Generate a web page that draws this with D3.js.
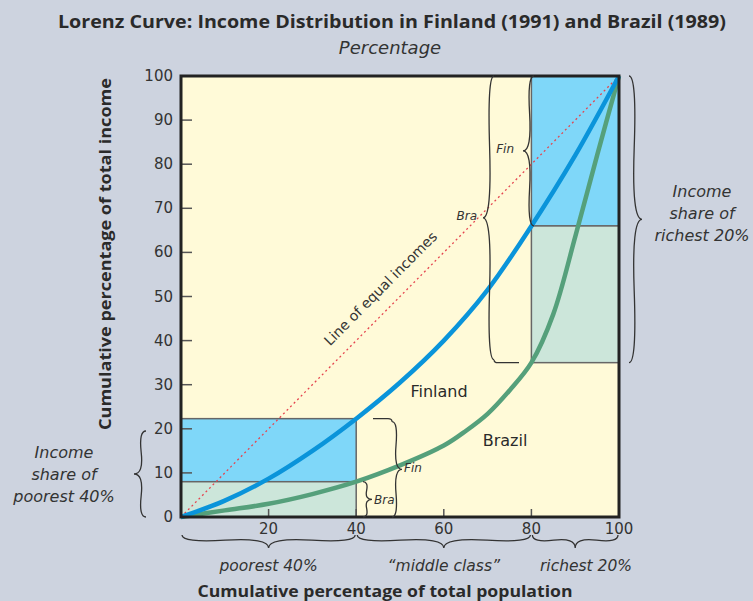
<!DOCTYPE html>
<meta charset="utf-8">
<style>
body { margin: 0; background: #cdd3df; }
svg { display: block; }
text { font-family: "DejaVu Sans", sans-serif; fill: #2a2a2a; }
.bold-title { font-family: "Open Sans", sans-serif; font-weight: bold; }
.tick-label { font-size: 15px; fill: #333; }
.note { font-style: italic; font-size: 16px; fill: #333; }
.small { font-style: italic; font-size: 12px; fill: #333; }
.brace { fill: none; stroke: #333; stroke-width: 1.3px; }
</style>
<svg width="753" height="601"></svg>
<script src="https://d3js.org/d3.v7.min.js"></script>
<script>

// cumulative population share (%) and cumulative income share (%)
var finlandPop = [0, 10, 20, 30, 40, 50, 60, 70, 80, 90, 100];
var finlandIncome = [0, 3.7, 8.7, 15, 22.3, 30.5, 40, 51.5, 66, 82, 100];

var brazilPop = [0, 10, 20, 30, 40, 50, 60, 65, 70, 75, 80, 85, 90, 95, 100];
var brazilIncome = [0, 1.5, 3, 5.2, 8, 11.7, 16.2, 19.5, 23.4, 28.7, 35, 46, 63.5, 82, 100];

var xTicks = [0, 20, 40, 60, 80, 100];
var yTicks = [0, 10, 20, 30, 40, 50, 60, 70, 80, 90, 100];

var groupNames = ["poorest 40%", "\u201cmiddle class\u201d", "richest 20%"];
var groupBounds = [[0, 40], [40, 80], [80, 100]];

var finPoorest40 = 22.3, braPoorest40 = 8;
var finRichStart = 66, braRichStart = 35;

var svg = d3.select("svg");

var x = d3.scaleLinear().domain([0, 100]).range([181, 619]);
var y = d3.scaleLinear().domain([0, 100]).range([517, 76]);

// curly brace from (x1,y1) to (x2,y2), tip on the left of the direction of travel
function bracePath(x1, y1, x2, y2, w, q) {
  var dx = x1 - x2, dy = y1 - y2, len = Math.sqrt(dx * dx + dy * dy);
  dx /= len; dy /= len;
  var qx1 = x1 + q * w * dy, qy1 = y1 - q * w * dx;
  var qx2 = (x1 - .25 * len * dx) + (1 - q) * w * dy, qy2 = (y1 - .25 * len * dy) - (1 - q) * w * dx;
  var tx1 = (x1 - .5 * len * dx) + w * dy, ty1 = (y1 - .5 * len * dy) - w * dx;
  var qx3 = x2 + q * w * dy, qy3 = y2 - q * w * dx;
  var qx4 = (x1 - .75 * len * dx) + (1 - q) * w * dy, qy4 = (y1 - .75 * len * dy) - (1 - q) * w * dx;
  return "M" + x1 + " " + y1 + " Q" + qx1 + " " + qy1 + " " + qx2 + " " + qy2 + " T" + tx1 + " " + ty1 +
    " M" + x2 + " " + y2 + " Q" + qx3 + " " + qy3 + " " + qx4 + " " + qy4 + " T" + tx1 + " " + ty1;
}

// titles
svg.append("text")
    .attr("class", "bold-title")
    .attr("x", 392).attr("y", 28)
    .attr("text-anchor", "middle")
    .attr("textLength", 668).attr("lengthAdjust", "spacingAndGlyphs")
    .style("font-size", "18px")
    .text("Lorenz Curve: Income Distribution in Finland (1991) and Brazil (1989)");

svg.append("text")
    .attr("x", 390).attr("y", 54)
    .attr("text-anchor", "middle")
    .style("font-size", "18px").style("font-style", "italic").style("fill", "#333")
    .text("Percentage");

// plot background
svg.append("rect")
    .attr("x", x(0)).attr("y", y(100))
    .attr("width", x(100) - x(0)).attr("height", y(0) - y(100))
    .attr("fill", "#fffad8");

// share boxes
var boxes = [
  { x0: 0, x1: 40, y0: braPoorest40, y1: finPoorest40, fill: "#7fd7f9" },
  { x0: 0, x1: 40, y0: 0, y1: braPoorest40, fill: "#cce6da" },
  { x0: 80, x1: 100, y0: finRichStart, y1: 100, fill: "#7fd7f9" },
  { x0: 80, x1: 100, y0: braRichStart, y1: finRichStart, fill: "#cce6da" }
];
svg.append("g").selectAll("rect")
  .data(boxes)
  .enter().append("rect")
    .attr("x", function(d) { return x(d.x0); })
    .attr("y", function(d) { return y(d.y1); })
    .attr("width", function(d) { return x(d.x1) - x(d.x0); })
    .attr("height", function(d) { return y(d.y0) - y(d.y1); })
    .attr("fill", function(d) { return d.fill; })
    .attr("stroke", "#666")
    .attr("stroke-width", 1.5);

// ticks inside the frame
svg.append("g").selectAll("line")
  .data(yTicks.slice(1, -1))
  .enter().append("line")
    .attr("x1", x(0)).attr("x2", x(0) + 11)
    .attr("y1", function(d) { return y(d); }).attr("y2", function(d) { return y(d); })
    .attr("stroke", "#555").attr("stroke-width", 1.5);

svg.append("g").selectAll("line")
  .data(xTicks.slice(1, -1))
  .enter().append("line")
    .attr("x1", function(d) { return x(d); }).attr("x2", function(d) { return x(d); })
    .attr("y1", y(0)).attr("y2", y(0) - 8)
    .attr("stroke", "#555").attr("stroke-width", 1.5);

// line of equal incomes
svg.append("line")
    .attr("x1", x(0)).attr("y1", y(0))
    .attr("x2", x(100)).attr("y2", y(100))
    .attr("stroke", "#e5454f").attr("stroke-width", 1.3)
    .attr("stroke-dasharray", "2,3");

var angle = Math.atan2(y(100) - y(0), x(100) - x(0)) * 180 / Math.PI;
svg.append("text")
    .attr("transform", "translate(384,292) rotate(" + angle + ")")
    .attr("text-anchor", "middle")
    .style("font-size", "14px").style("fill", "#333")
    .text("Line of equal incomes");

// Lorenz curves
var line = d3.line()
    .x(function(d) { return x(d[0]); })
    .y(function(d) { return y(d[1]); })
    .curve(d3.curveCatmullRom.alpha(0.5));

svg.append("path")
    .datum(d3.zip(brazilPop, brazilIncome))
    .attr("d", line)
    .attr("fill", "none")
    .attr("stroke", "#55a07b")
    .attr("stroke-width", 4.5);

svg.append("path")
    .datum(d3.zip(finlandPop, finlandIncome))
    .attr("d", line)
    .attr("fill", "none")
    .attr("stroke", "#0a94da")
    .attr("stroke-width", 4.5);

svg.append("text").attr("x", 439).attr("y", 397)
    .attr("text-anchor", "middle").style("font-size", "16px").text("Finland");
svg.append("text").attr("x", 505).attr("y", 446)
    .attr("text-anchor", "middle").style("font-size", "16px").text("Brazil");

// frame
svg.append("rect")
    .attr("x", x(0)).attr("y", y(100))
    .attr("width", x(100) - x(0)).attr("height", y(0) - y(100))
    .attr("fill", "none")
    .attr("stroke", "#222")
    .attr("stroke-width", 3);

// tick labels
svg.append("g").selectAll("text")
  .data(yTicks)
  .enter().append("text")
    .attr("class", "tick-label")
    .attr("x", x(0) - 8)
    .attr("y", function(d) { return y(d) + 5; })
    .attr("text-anchor", "end")
    .text(function(d) { return d; });

svg.append("g").selectAll("text")
  .data(xTicks.slice(1))
  .enter().append("text")
    .attr("class", "tick-label")
    .attr("x", function(d) { return x(d); })
    .attr("y", y(0) + 17)
    .attr("text-anchor", "middle")
    .text(function(d) { return d; });

// axis titles
svg.append("text")
    .attr("class", "bold-title")
    .attr("x", 385).attr("y", 597)
    .attr("text-anchor", "middle")
    .attr("textLength", 375).attr("lengthAdjust", "spacingAndGlyphs")
    .style("font-size", "16px")
    .text("Cumulative percentage of total population");

svg.append("text")
    .attr("class", "bold-title")
    .attr("transform", "translate(111,254) rotate(-90)")
    .attr("text-anchor", "middle")
    .attr("textLength", 352).attr("lengthAdjust", "spacingAndGlyphs")
    .style("font-size", "16px")
    .text("Cumulative percentage of total income");

// population group braces below the axis
svg.append("g").selectAll("path")
  .data(groupBounds)
  .enter().append("path")
    .attr("class", "brace")
    .attr("d", function(d) { return bracePath(x(d[0]) + 1, 535, x(d[1]) - 1, 535, 13, 0.6); });

svg.append("g").selectAll("text")
  .data(groupNames)
  .enter().append("text")
    .attr("class", "note")
    .attr("x", function(d, i) { return i === 2 ? 586 : x((groupBounds[i][0] + groupBounds[i][1]) / 2); })
    .attr("y", 571)
    .attr("text-anchor", "middle")
    .style("font-size", "15.5px")
    .text(function(d) { return d; });

// income share of poorest 40% (left)
svg.append("path").attr("class", "brace")
    .attr("d", bracePath(146, 431, 146, y(0), 12, 0.6));
svg.append("g").selectAll("text")
  .data(["Income", "share of", "poorest 40%"])
  .enter().append("text")
    .attr("class", "note")
    .attr("x", 64)
    .attr("y", function(d, i) { return 458 + i * 22; })
    .attr("text-anchor", "middle")
    .text(function(d) { return d; });

// income share of richest 20% (right)
svg.append("path").attr("class", "brace")
    .attr("d", bracePath(629, y(braRichStart), 629, y(100), 13, 0.6));
svg.append("g").selectAll("text")
  .data(["Income", "share of", "richest 20%"])
  .enter().append("text")
    .attr("class", "note")
    .attr("x", 702)
    .attr("y", function(d, i) { return 197 + i * 22; })
    .attr("text-anchor", "middle")
    .text(function(d) { return d; });

// country braces for the poorest 40%
svg.append("path").attr("class", "brace")
    .attr("d", bracePath(392, y(0), 392, y(finPoorest40) + 3, 10, 0.6) +
      " M373 " + y(finPoorest40) + " L388 " + y(finPoorest40) + " Q392 " + y(finPoorest40) + " 392 " + (y(finPoorest40) + 3));
svg.append("text").attr("class", "small").attr("x", 404).attr("y", 472).text("Fin");

svg.append("path").attr("class", "brace")
    .attr("d", bracePath(363, y(0), 363, y(braPoorest40), 9, 0.6));
svg.append("text").attr("class", "small").attr("x", 374).attr("y", 504).text("Bra");

// country braces for the richest 20%
svg.append("path").attr("class", "brace")
    .attr("d", bracePath(534, y(100), 534, y(finRichStart), 11, 0.6));
svg.append("text").attr("class", "small").attr("x", 514).attr("y", 153)
    .attr("text-anchor", "end").text("Fin");

svg.append("path").attr("class", "brace")
    .attr("d", bracePath(494, y(100), 494, y(braRichStart) - 3, 11, 0.6) +
      " M494 " + (y(braRichStart) - 3) + " Q494 " + y(braRichStart) + " 498 " + y(braRichStart) + " L519 " + y(braRichStart));
svg.append("text").attr("class", "small").attr("x", 477).attr("y", 220)
    .attr("text-anchor", "end").text("Bra");

</script>
